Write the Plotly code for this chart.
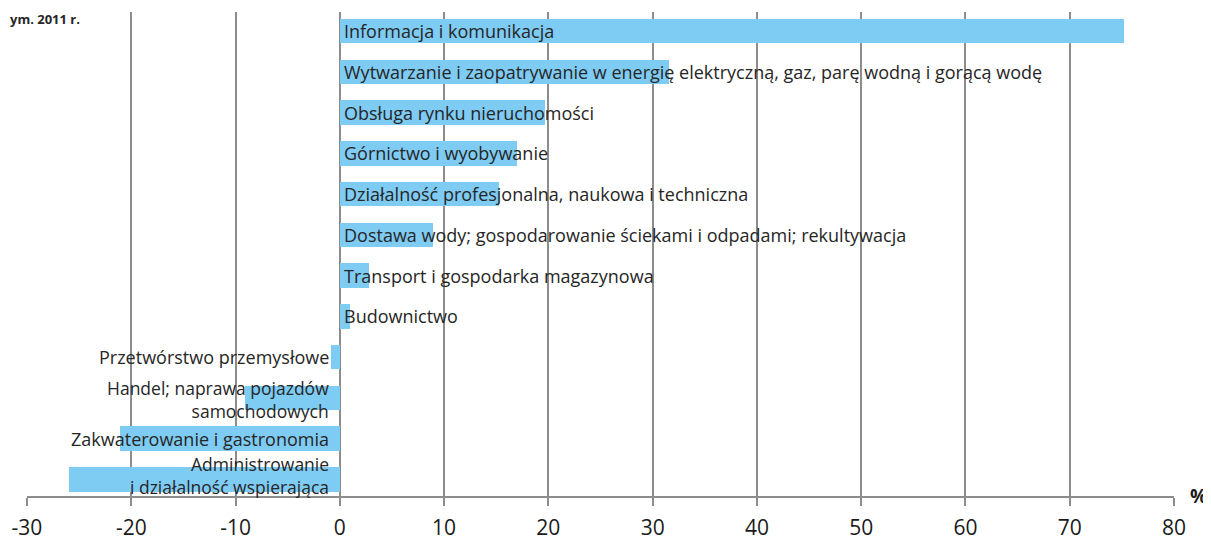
import plotly.graph_objects as go

# sekcje PKD, od góry
categories = [
    'Informacja i komunikacja',
    'Wytwarzanie i zaopatrywanie w energię elektryczną, gaz, parę wodną i gorącą wodę',
    'Obsługa rynku nieruchomości',
    'Górnictwo i wyobywanie',
    'Działalność profesjonalna, naukowa i techniczna',
    'Dostawa wody; gospodarowanie ściekami i odpadami; rekultywacja',
    'Transport i gospodarka magazynowa',
    'Budownictwo',
    'Przetwórstwo przemysłowe',
    'Handel; naprawa pojazdów<br>samochodowych',
    'Zakwaterowanie i gastronomia',
    'Administrowanie<br>i działalność wspierająca',
]
values = [75.2, 31.6, 19.7, 17.0, 15.3, 8.9, 2.8, 1.0, -0.8, -9.1, -21.1, -26.0]
tick_vals = [-30, -20, -10, 0, 10, 20, 30, 40, 50, 60, 70, 80]
tick_text = ['-30', '-20', '-10', '0', '10', '20', '30', '40', '50', '60', '70', '80']

BAR = '#7ECBF4'
GRID = '#8c8c8c'
FONT = 'Open Sans'
TXT = '#262626'

rows = list(range(len(categories)))

fig = go.Figure(go.Bar(
    x=values,
    y=rows,
    orientation='h',
    marker=dict(color=BAR, line_width=0),
    width=0.6,
    hoverinfo='skip',
))

# etykiety dwuwierszowe troche przesuniete wzgledem paska
label_shift = {9: -1.5, 11: 4}

for i, (cat, val) in enumerate(zip(categories, values)):
    two_lines = '<br>' in cat
    fig.add_annotation(
        x=0, y=i, xref='x', yref='y',
        text=cat,
        showarrow=False,
        xanchor='left' if val >= 0 else 'right',
        align='left' if val >= 0 else 'right',
        xshift=3 if val >= 0 else -10,
        yshift=label_shift.get(i, 0),
        borderpad=0,
        font=dict(family=FONT, size=17.5 if two_lines else 18, color=TXT),
    )

fig.add_annotation(
    x=1.012, y=0, xref='paper', yref='paper',
    text='<b>%</b>', showarrow=False, xanchor='left', yanchor='middle',
    font=dict(family=FONT, size=19, color='#1a1a1a'),
)
# kawałek tytułu nad wykresem
fig.add_annotation(
    x=0, y=1, xref='paper', yref='paper', xshift=-19, yshift=4,
    text='<b>ym. 2011 r.</b>', showarrow=False, xanchor='left', yanchor='top',
    font=dict(family=FONT, size=13, color=TXT),
    bgcolor='white',
)

# strona ma 8px marginesu body, wiec figura jest mniejsza
fig.update_layout(
    width=1203, height=540,
    margin=dict(l=19, r=37, t=4, b=52),
    plot_bgcolor='white', paper_bgcolor='white',
    showlegend=False,
    bargap=0,
    xaxis=dict(
        range=[-30, 80],
        tickmode='array', tickvals=tick_vals, ticktext=tick_text,
        automargin=False,
        showgrid=True, gridcolor=GRID, gridwidth=2,
        zeroline=False,
        showline=True, linecolor=GRID, linewidth=2,
        ticks='outside', ticklen=8, tickwidth=2, tickcolor=GRID,
        tickfont=dict(family=FONT, size=21, color='#1a1a1a'),
        ticklabelstandoff=4,
    ),
    yaxis=dict(
        range=[11.405, -0.466], automargin=False,
        showticklabels=False, showgrid=False, zeroline=False, showline=False,
    ),
)

fig.write_html('out.html')
